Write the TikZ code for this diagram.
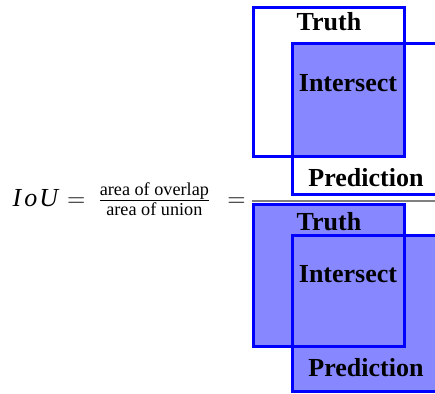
\documentclass[tikz,border=0pt]{standalone}
\usepackage{amsmath}
\usepackage{fontspec}
\setmainfont{Liberation Serif}
\colorlet{iouFill}{blue!47}
\tikzset{
  box/.style={draw=blue, line width=1.5pt},
  boxtext/.style={font=\fontsize{13}{15}\selectfont\bfseries, inner sep=0pt}
}
\begin{document}
\begin{tikzpicture}[x=0.5pt,y=-0.5pt]
        \useasboundingbox (0,0) rectangle (435,394);
        \clip (0,0) rectangle (435,394);
        % the equation on the left
        \node[anchor=east, font=\fontsize{13}{15}\selectfont, inner sep=0pt] (iou) at (246,199)
            {{\itshape I\kern1.5pt o\kern1pt U}\kern4.5pt$=$\kern6pt$\frac{\text{area of overlap}}{\text{area of union}}$\kern8pt$=$};
        % numerator: only the overlap is filled
        \fill[iouFill] (292,44) rectangle (404,157);
        \draw[box] (253,8) rectangle (404,157);
        \draw[box] (292,44) rectangle (442,195);
        \node[boxtext] (truthA) at (329,22) {Truth};
        \node[boxtext] (interA) at (348,83) {Intersect};
        \node[boxtext] (predA) at (366,178) {Prediction};
        % fraction bar
        \draw[gray, line width=0.75pt] (252,201) -- (440,201);
        % denominator: the whole union is filled
        \fill[iouFill] (253,205) rectangle (404,347);
        \fill[iouFill] (292,236) rectangle (442,392);
        \draw[box] (253,205) rectangle (404,347);
        \draw[box] (292,236) rectangle (442,392);
        \node[boxtext] (truthB) at (329,222) {Truth};
        \node[boxtext] (interB) at (348,274) {Intersect};
        \node[boxtext] (predB) at (366,368) {Prediction};
\end{tikzpicture}
\end{document}
